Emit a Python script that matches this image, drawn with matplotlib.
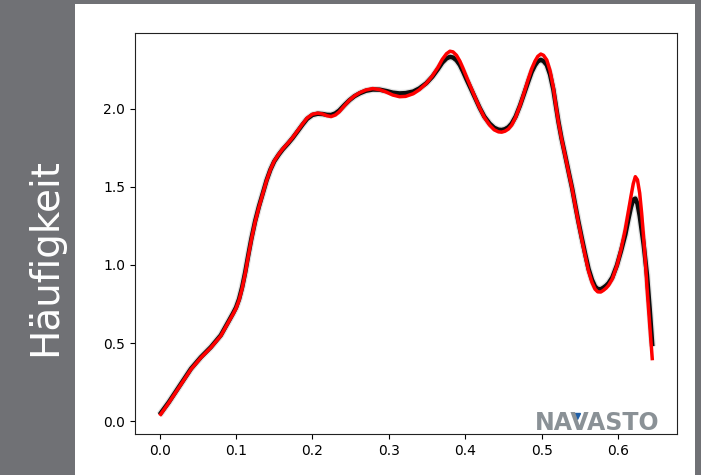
import matplotlib
matplotlib.use("Agg")
import matplotlib.pyplot as plt
from matplotlib.patches import Rectangle

# ---- data ----
x_vals = [0.000, 0.012, 0.025, 0.041, 0.054, 0.067, 0.080, 0.091, 0.096, 0.100,
          0.104, 0.108, 0.112, 0.116, 0.120, 0.125, 0.130, 0.135, 0.140, 0.145,
          0.150, 0.156, 0.161, 0.168, 0.174, 0.181, 0.187, 0.193, 0.200, 0.207,
          0.2135, 0.219, 0.2245, 0.230, 0.235, 0.242, 0.2485, 0.255, 0.262, 0.270,
          0.279, 0.288, 0.297, 0.305, 0.314, 0.322, 0.332, 0.340, 0.349, 0.357,
          0.3645, 0.370, 0.3755, 0.380, 0.384, 0.3886, 0.393, 0.397, 0.402, 0.408,
          0.414, 0.419, 0.425, 0.432, 0.438, 0.4435, 0.4477, 0.452, 0.4565, 0.4608,
          0.466, 0.4717, 0.477, 0.4826, 0.487, 0.4914, 0.495, 0.4989, 0.5025, 0.5068,
          0.511, 0.5154, 0.519, 0.522, 0.526, 0.531, 0.5355, 0.540, 0.544, 0.548,
          0.5525, 0.557, 0.5615, 0.566, 0.570, 0.5735, 0.5775, 0.581, 0.5845, 0.5877,
          0.5925, 0.5986, 0.604, 0.6096, 0.6135, 0.617, 0.620, 0.6227, 0.6255, 0.6284,
          0.631, 0.6336, 0.636, 0.638, 0.6415, 0.645]

y_red = [0.035, 0.118, 0.214, 0.332, 0.407, 0.471, 0.546, 0.642, 0.685, 0.722,
         0.775, 0.850, 0.945, 1.055, 1.160, 1.275, 1.370, 1.455, 1.540, 1.610,
         1.665, 1.710, 1.742, 1.780, 1.815, 1.862, 1.902, 1.940, 1.965, 1.972,
         1.966, 1.955, 1.950, 1.960, 1.980, 2.020, 2.055, 2.082, 2.103, 2.120,
         2.129, 2.122, 2.106, 2.088, 2.077, 2.079, 2.096, 2.122, 2.162, 2.210,
         2.266, 2.316, 2.352, 2.368, 2.364, 2.342, 2.305, 2.260, 2.200, 2.130,
         2.060, 2.005, 1.945, 1.895, 1.865, 1.852, 1.850, 1.856, 1.870, 1.895,
         1.945, 2.020, 2.100, 2.190, 2.255, 2.305, 2.335, 2.350, 2.342, 2.312,
         2.245, 2.135, 2.010, 1.915, 1.810, 1.695, 1.590, 1.487, 1.380, 1.275,
         1.165, 1.060, 0.960, 0.888, 0.845, 0.828, 0.827, 0.838, 0.852, 0.870,
         0.910, 0.995, 1.100, 1.230, 1.340, 1.440, 1.520, 1.565, 1.545, 1.460,
         1.330, 1.170, 1.010, 0.855, 0.620, 0.390]

y_black = [0.042, 0.122, 0.218, 0.336, 0.410, 0.474, 0.550, 0.646, 0.690, 0.728,
           0.782, 0.858, 0.953, 1.062, 1.166, 1.280, 1.375, 1.458, 1.542, 1.610,
           1.663, 1.707, 1.739, 1.777, 1.812, 1.858, 1.898, 1.935, 1.960, 1.968,
           1.966, 1.961, 1.960, 1.970, 1.988, 2.024, 2.055, 2.080, 2.099, 2.115,
           2.123, 2.122, 2.113, 2.103, 2.098, 2.100, 2.110, 2.130, 2.163, 2.205,
           2.255, 2.295, 2.322, 2.332, 2.328, 2.310, 2.280, 2.240, 2.185, 2.122,
           2.058, 2.005, 1.950, 1.905, 1.878, 1.866, 1.864, 1.869, 1.882, 1.905,
           1.950, 2.020, 2.095, 2.175, 2.235, 2.278, 2.303, 2.313, 2.305, 2.280,
           2.220, 2.122, 2.010, 1.918, 1.812, 1.698, 1.593, 1.490, 1.385, 1.282,
           1.175, 1.072, 0.975, 0.905, 0.862, 0.846, 0.845, 0.855, 0.868, 0.884,
           0.920, 0.998, 1.090, 1.195, 1.290, 1.370, 1.418, 1.425, 1.392, 1.315,
           1.222, 1.130, 1.025, 0.935, 0.720, 0.480]

ylabel_text = "Häufigkeit"
logo_text = "NAVASTO"

# ---- figure ----
W, H = 701, 475
fig = plt.figure(figsize=(W / 100, H / 100), dpi=100, facecolor="#707175")
# white panel (behind the axes)
panel = Rectangle((75 / W, 0), (695 - 75) / W, (475 - 4) / H,
                  transform=fig.transFigure, facecolor="white",
                  edgecolor="none", zorder=-5)
fig.patches.append(panel)

ax = fig.add_axes([135 / W, (475 - 434) / H, (677 - 135) / W, (434 - 33) / H])
ax.set_facecolor("white")
ax.set_zorder(1)

ax.plot(x_vals, y_black, color="black", lw=5, alpha=0.12, solid_capstyle="butt")
ax.plot(x_vals, y_black, color="black", lw=3.2, alpha=0.95, solid_capstyle="butt")
ax.plot(x_vals, y_red, color="red", lw=2.5, solid_capstyle="butt")

for s in ax.spines.values():
    s.set_color("#222222")

fig.text(45 / W, (475 - 257) / H, ylabel_text, rotation=90, color="white",
         fontsize=28, ha="center", va="center", family="DejaVu Sans", zorder=3)

fig.text(597 / W, (475 - 423) / H, logo_text, color="#8a9196", fontsize=17,
         fontweight="bold", ha="center", va="center", family="DejaVu Sans",
         zorder=3)
fig.lines.append(plt.Line2D([577 / W], [(475 - 416) / H], marker="v",
                            markersize=4, color="#1f5fa8", linestyle="none",
                            transform=fig.transFigure, zorder=3))

fig.savefig("out.png", dpi=100, facecolor=fig.get_facecolor())
